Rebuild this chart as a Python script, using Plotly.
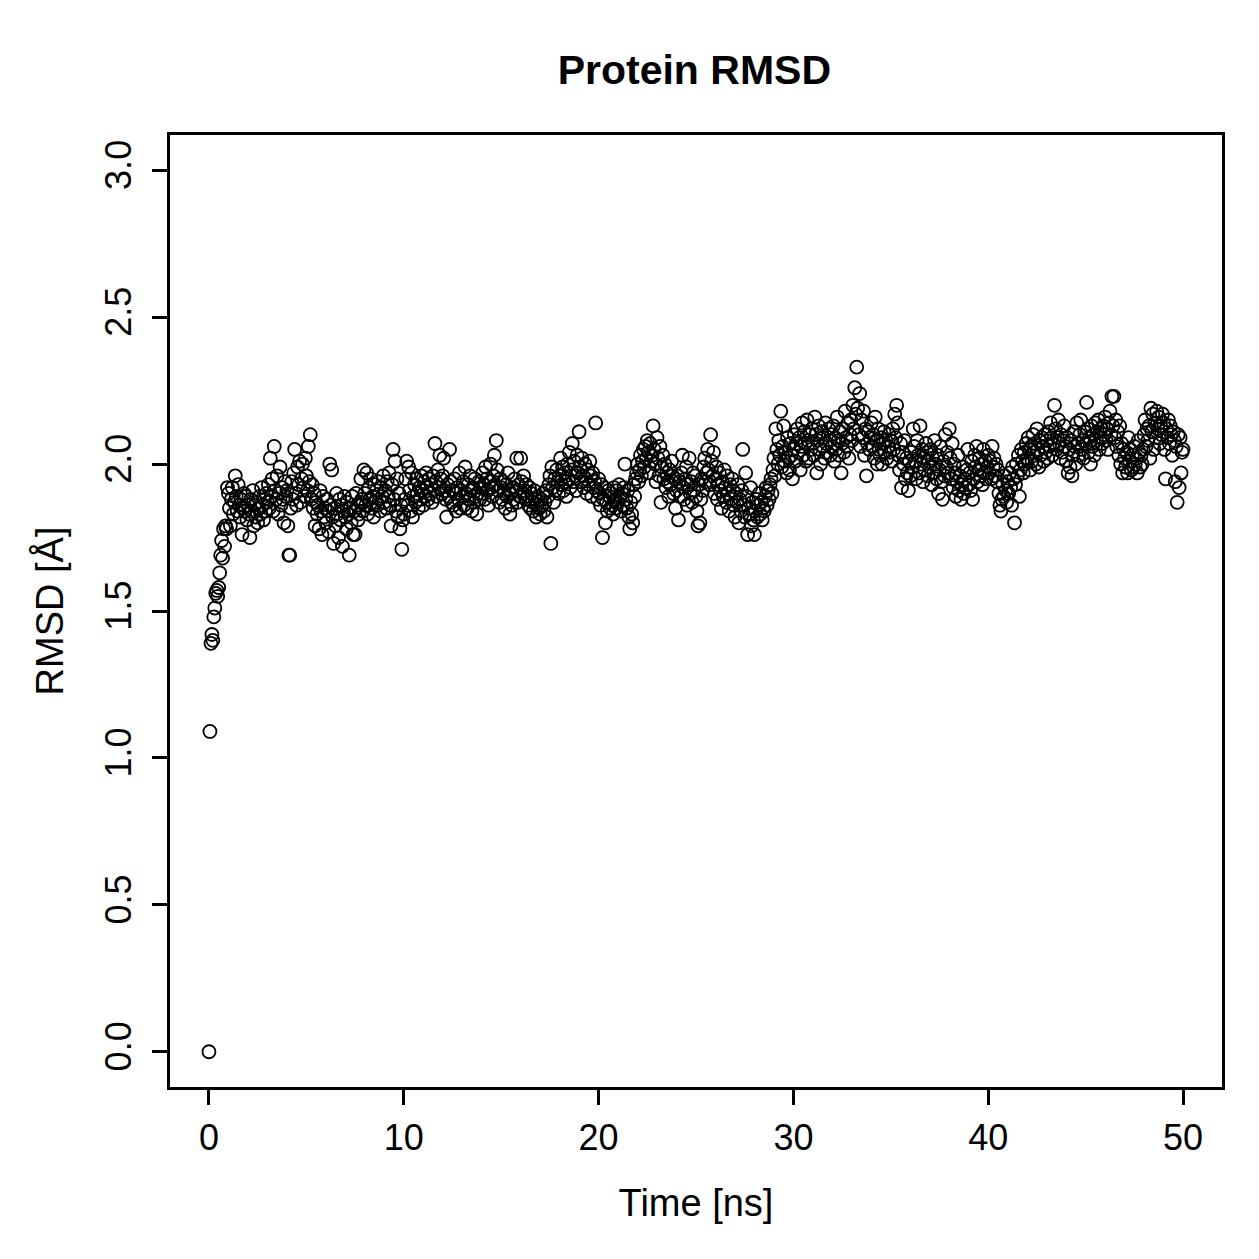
import plotly.graph_objects as go

# RMSD values (Å), sampled every 0.05 ns from 0 to 50 ns (one row per ns)
rmsd = [
    0.00, 1.09, 1.39, 1.42, 1.40, 1.48, 1.51, 1.56, 1.57, 1.55, 1.58, 1.63, 1.69, 1.74, 1.68, 1.78, 1.72, 1.79, 1.78, 1.92,
    1.90, 1.85, 1.79, 1.88, 1.92, 1.83, 1.87, 1.96, 1.89, 1.84, 1.93, 1.86, 1.82, 1.88, 1.76, 1.85, 1.90, 1.84, 1.89, 1.81,
    1.86, 1.83, 1.75, 1.88, 1.84, 1.91, 1.79, 1.86, 1.82, 1.87, 1.80, 1.85, 1.89, 1.83, 1.92, 1.86, 1.81, 1.88, 1.84, 1.90,
    1.87, 1.93, 1.85, 2.02, 1.89, 1.95, 1.84, 2.06, 1.91, 1.88, 1.96, 1.83, 1.90, 1.99, 1.86, 1.92, 1.88, 1.80, 1.94, 1.89,
    1.91, 1.79, 1.69, 1.69, 1.85, 1.94, 1.88, 1.97, 2.05, 1.90, 1.86, 1.99, 1.93, 2.01, 1.87, 1.95, 2.00, 1.92, 1.89, 2.02,
    1.96, 1.91, 2.06, 1.94, 2.10, 1.88, 1.93, 1.85, 1.90, 1.79, 1.87, 1.83, 1.86, 1.78, 1.91, 1.84, 1.76, 1.89, 1.82, 1.85,
    1.80, 1.88, 1.84, 1.77, 2.00, 1.86, 1.98, 1.82, 1.73, 1.85, 1.79, 1.90, 1.83, 1.75, 1.88, 1.81, 1.86, 1.72, 1.84, 1.89,
    1.82, 1.78, 1.87, 1.83, 1.69, 1.85, 1.80, 1.89, 1.76, 1.84, 1.76, 1.90, 1.86, 1.81, 1.83, 1.87, 1.95, 1.88, 1.84, 1.98,
    1.90, 1.86, 1.97, 1.83, 1.92, 1.88, 1.95, 1.85, 1.89, 1.82, 1.93, 1.87, 1.91, 1.86, 1.94, 1.88, 1.84, 1.92, 1.89, 1.96,
    1.87, 1.91, 1.85, 1.94, 1.89, 1.97, 1.86, 1.79, 1.93, 2.05, 1.88, 2.01, 1.84, 1.95, 1.82, 1.90, 1.78, 1.86, 1.71, 1.81,
    1.83, 1.88, 1.95, 2.01, 1.86, 1.99, 1.91, 1.84, 1.97, 1.82, 1.89, 1.93, 1.87, 1.95, 1.90, 1.85, 1.92, 1.88, 1.96, 1.91,
    1.86, 1.94, 1.89, 1.97, 1.92, 1.88, 1.95, 1.90, 1.93, 1.87, 1.96, 1.91, 2.07, 1.94, 1.89, 1.98, 1.92, 2.03, 1.95, 1.90,
    1.96, 2.02, 1.91, 1.88, 1.82, 1.93, 1.89, 2.05, 1.94, 1.87, 1.91, 1.86, 1.95, 1.90, 1.84, 1.92, 1.88, 1.97, 1.85, 1.91,
    1.89, 1.94, 1.86, 1.99, 1.90, 1.85, 1.93, 1.88, 1.96, 1.91, 1.84, 1.92, 1.87, 1.95, 1.89, 1.83, 1.90, 1.94, 1.88, 1.92,
    1.90, 1.97, 1.93, 1.88, 1.99, 1.95, 1.91, 1.86, 1.94, 2.00, 1.92, 1.89, 1.96, 2.03, 1.93, 2.08, 1.98, 1.91, 1.87, 1.95,
    1.92, 1.88, 1.94, 1.90, 1.85, 1.93, 1.89, 1.97, 1.91, 1.83, 1.90, 1.86, 1.92, 1.88, 1.95, 1.91, 2.02, 1.87, 1.93, 1.89,
    2.02, 1.94, 1.90, 1.96, 1.91, 1.88, 1.93, 1.89, 1.86, 1.92, 1.85, 1.90, 1.87, 1.84, 1.91, 1.88, 1.82, 1.86, 1.89, 1.85,
    1.83, 1.88, 1.86, 1.90, 1.84, 1.87, 1.91, 1.82, 1.89, 1.93, 1.96, 1.73, 1.99, 1.92, 1.87, 1.95, 1.91, 1.98, 1.94, 1.90,
    1.96, 2.02, 1.93, 1.99, 1.91, 1.97, 1.94, 1.89, 2.00, 1.95, 2.04, 1.92, 1.98, 2.07, 1.94, 2.01, 1.96, 1.91, 2.03, 1.97,
    2.11, 1.99, 1.94, 2.02, 1.96, 1.92, 2.00, 1.95, 1.90, 1.98, 1.93, 2.01, 1.96, 1.89, 1.97, 1.92, 1.94, 2.14, 1.91, 1.88,
    1.95, 1.90, 1.86, 1.93, 1.75, 1.88, 1.92, 1.80, 1.87, 1.84, 1.91, 1.89, 1.85, 1.90, 1.86, 1.83, 1.92, 1.88, 1.85, 1.91,
    1.87, 1.93, 1.89, 1.84, 1.90, 1.86, 1.92, 2.00, 1.88, 1.85, 1.91, 1.82, 1.78, 1.87, 1.83, 1.80, 1.93, 1.89, 1.95, 1.97,
    2.00, 1.94, 1.98, 2.03, 1.96, 2.01, 2.05, 1.99, 2.06, 2.02, 2.08, 2.04, 1.97, 2.07, 2.01, 2.03, 2.13, 2.05, 2.00, 1.94,
    2.09, 2.02, 1.96, 2.06, 1.87, 1.99, 2.03, 1.95, 2.00, 1.92, 1.97, 1.94, 1.89, 1.98, 1.93, 2.01, 1.96, 1.90, 1.95, 1.85,
    1.91, 1.96, 1.81, 1.94, 1.89, 1.97, 2.03, 1.92, 1.88, 1.95, 1.99, 1.86, 1.93, 2.02, 1.90, 1.94, 1.87, 1.97, 1.91, 1.96,
    1.89, 1.84, 1.79, 1.93, 1.80, 1.88, 1.95, 1.91, 1.99, 2.02, 1.94, 1.97, 2.05, 1.98, 1.93, 2.10, 2.01, 1.96, 2.04, 1.90,
    1.95, 1.99, 1.88, 1.93, 1.97, 1.91, 1.85, 1.94, 1.89, 1.98, 1.92, 1.87, 1.96, 1.90, 1.84, 1.93, 1.88, 1.95, 1.91, 1.86,
    1.82, 1.90, 1.87, 1.93, 1.80, 1.88, 1.84, 1.91, 2.05, 1.86, 1.82, 1.97, 1.89, 1.76, 1.85, 1.83, 1.92, 1.79, 1.87, 1.81,
    1.76, 1.84, 1.88, 1.82, 1.86, 1.90, 1.83, 1.87, 1.81, 1.85, 1.84, 1.89, 1.92, 1.86, 1.91, 1.88, 1.93, 1.95, 1.90, 1.98,
    2.02, 1.96, 2.12, 2.05, 2.00, 2.08, 2.03, 2.18, 1.99, 2.06, 2.13, 2.01, 2.04, 1.97, 2.09, 2.02, 1.98, 2.07, 2.03, 1.95,
    2.05, 2.10, 2.01, 2.07, 2.12, 2.04, 2.09, 1.98, 2.06, 2.14, 2.03, 2.11, 2.07, 2.01, 2.15, 2.08, 2.02, 2.10, 2.05, 2.12,
    2.07, 2.03, 2.16, 2.10, 1.97, 2.08, 2.13, 2.05, 2.00, 2.11, 2.06, 2.09, 2.02, 2.14, 2.07, 2.04, 2.12, 2.08, 2.03, 2.10,
    2.06, 2.13, 2.01, 2.09, 2.05, 2.16, 2.08, 2.03, 2.11, 1.97, 2.07, 2.12, 2.04, 2.18, 2.09, 2.06, 2.14, 2.02, 2.10, 2.15,
    2.08, 2.20, 2.12, 2.26, 2.17, 2.33, 2.19, 2.10, 2.24, 2.06, 2.15, 2.09, 2.18, 2.03, 2.12, 1.96, 2.07, 2.11, 2.05, 2.09,
    2.14, 2.06, 2.10, 2.02, 2.16, 2.08, 2.00, 2.12, 2.05, 2.03, 2.09, 2.00, 2.07, 2.11, 2.04, 2.08, 2.02, 2.06, 2.10, 2.04,
    2.08, 2.01, 2.12, 2.05, 2.17, 2.09, 2.20, 2.14, 2.03, 1.98, 2.07, 1.92, 2.04, 2.00, 2.08, 1.95, 2.02, 1.97, 1.91, 2.01,
    1.96, 2.04, 1.99, 2.12, 2.06, 2.01, 1.95, 2.08, 2.03, 1.97, 2.13, 2.00, 2.05, 1.94, 2.02, 1.98, 2.07, 2.04, 1.96, 2.01,
    1.99, 2.05, 1.93, 2.02, 1.97, 2.08, 2.00, 1.95, 2.03, 1.90, 1.98, 2.06, 1.94, 1.88, 2.01, 1.96, 2.10, 1.99, 2.04, 1.97,
    2.12, 2.02, 1.95, 2.07, 1.92, 2.00, 1.97, 1.89, 1.94, 2.03, 1.91, 1.96, 1.88, 1.93, 1.99, 1.90, 1.95, 1.92, 1.98, 2.05,
    1.93, 1.97, 1.91, 2.01, 1.88, 1.95, 2.03, 1.99, 2.06, 1.94, 1.98, 2.02, 1.96, 2.00, 1.93, 2.05, 1.97, 2.01, 1.95, 1.99,
    2.03, 1.97, 2.01, 1.95, 2.06, 1.99, 2.02, 1.96, 2.00, 1.94, 1.98, 1.90, 1.86, 1.84, 1.88, 1.93, 1.89, 1.96, 1.91, 1.87,
    1.94, 1.90, 1.97, 1.92, 1.86, 1.99, 1.95, 1.80, 1.93, 2.00, 1.96, 2.03, 1.89, 1.98, 2.05, 2.01, 1.97, 2.04, 2.00, 2.07,
    2.02, 2.09, 2.05, 1.98, 2.06, 2.01, 2.10, 2.04, 2.07, 2.00, 2.12, 2.05, 1.99, 2.08, 2.03, 2.09, 2.06, 2.01, 2.10, 2.04,
    2.08, 2.02, 2.11, 2.06, 2.14, 2.09, 2.03, 2.07, 2.20, 2.12, 2.05, 2.09, 2.15, 2.07, 2.02, 2.10, 2.04, 2.08, 2.13, 2.06,
    2.01, 2.09, 1.97, 2.05, 1.99, 2.08, 1.96, 2.03, 2.11, 2.06, 2.00, 2.14, 2.07, 2.03, 2.10, 2.15, 2.05, 2.08, 2.02, 2.11,
    2.07, 2.21, 2.12, 2.04, 2.09, 2.00, 2.13, 2.06, 2.10, 2.03, 2.14, 2.08, 2.11, 2.15, 2.05, 2.09, 2.12, 2.07, 2.13, 2.10,
    2.16, 2.08, 2.12, 2.05, 2.14, 2.18, 2.10, 2.23, 2.13, 2.23, 2.09, 2.15, 2.06, 2.11, 2.03, 2.13, 2.00, 2.07, 1.97, 2.05,
    2.02, 1.99, 2.04, 1.97, 2.09, 2.01, 2.05, 1.98, 2.03, 1.99, 2.06, 2.00, 2.02, 1.97, 2.08, 2.04, 1.99, 2.03, 2.00, 2.05,
    2.10, 2.15, 2.06, 2.12, 2.08, 2.13, 2.02, 2.19, 2.11, 2.17, 2.05, 2.14, 2.09, 2.18, 2.12, 2.16, 2.07, 2.13, 2.10, 2.17,
    2.14, 2.05, 1.95, 2.12, 2.09, 2.15, 2.07, 2.13, 2.10, 2.03, 2.11, 2.08, 1.94, 2.06, 1.87, 2.10, 1.92, 2.09, 1.97, 2.04,
    2.05,
]
time_step_ns = 0.05
time_ns = [round(i * time_step_ns, 2) for i in range(len(rmsd))]

x_ticks = [0, 10, 20, 30, 40, 50]
y_ticks = [0.0, 0.5, 1.0, 1.5, 2.0, 2.5, 3.0]
y_tick_labels = ["0.0", "0.5", "1.0", "1.5", "2.0", "2.5", "3.0"]

FONT = "Liberation Sans, Arial, Helvetica, sans-serif"

fig = go.Figure()
fig.add_trace(go.Scatter(
    x=time_ns, y=rmsd, mode="markers",
    marker=dict(symbol="circle-open", size=13, color="black",
                line=dict(width=1.8, color="black")),
    showlegend=False, hoverinfo="x+y",
))

axis_common = dict(
    showgrid=False, zeroline=False, showline=True, mirror=True,
    linecolor="black", linewidth=3,
    ticks="outside", ticklen=15, tickwidth=3, tickcolor="black",
    tickfont=dict(family=FONT, size=36, color="black"),
    title_font=dict(family=FONT, size=38, color="black"),
)

fig.update_layout(
    width=1259, height=1259,
    margin=dict(l=170, r=37, t=135, b=172, autoexpand=False),
    paper_bgcolor="white", plot_bgcolor="white",
    title=dict(text="<b>Protein RMSD</b>", x=0.5515, xanchor="center",
               y=1 - 70 / 1259, yanchor="middle",
               font=dict(family=FONT, size=41, color="black")),
    xaxis=dict(range=[-2, 52], tickvals=x_ticks, ticktext=[str(v) for v in x_ticks],
               ticklabelstandoff=2,
               title=dict(text="Time [ns]", standoff=33), **axis_common),
    yaxis=dict(range=[-0.12, 3.12], tickvals=y_ticks, ticktext=y_tick_labels,
               tickangle=-90, ticklabelstandoff=7,
               title=dict(text="RMSD [Å]", standoff=23), **axis_common),
)

fig.write_html("out.html")
